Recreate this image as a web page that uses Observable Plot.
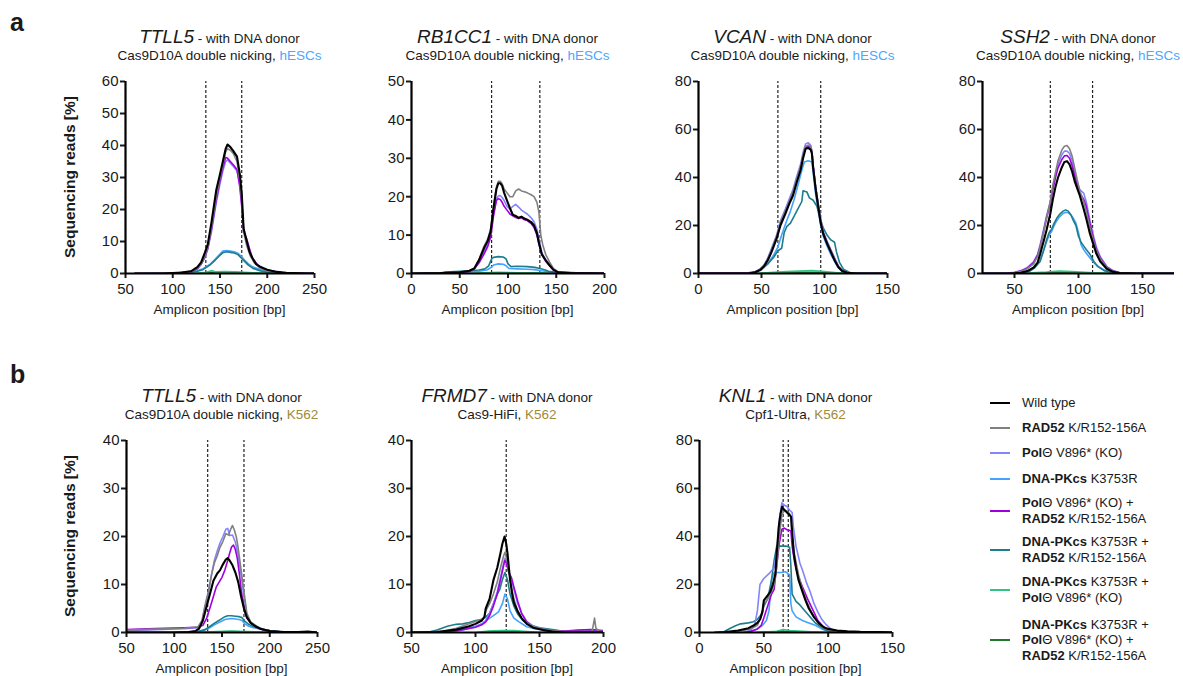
<!DOCTYPE html>
<html><head><meta charset="utf-8">
<script src="https://cdn.jsdelivr.net/npm/d3@7"></script>
<script src="https://cdn.jsdelivr.net/npm/@observablehq/plot@0.6"></script>
<style>
body{margin:0;background:#fff;font-family:"Liberation Sans",Arial,sans-serif;color:#1a1a1a}
#fig{position:relative;width:1183px;height:676px;overflow:hidden;background:#fff}
.abs{position:absolute;white-space:nowrap}
.ctr{transform:translateX(-50%);text-align:center}
.gene{font-style:italic;font-size:19px}
.sub{font-size:13.5px}
.xl{font-size:13.5px}
.yl{font-size:15.5px;font-weight:bold;transform:translate(-50%,-50%) rotate(-90deg)}
.letter{font-size:25px;font-weight:bold}
.leg{display:flex;align-items:center;font-size:13px;line-height:15.5px}
.sw{width:20px;height:2px;margin-right:12px;flex:none}
</style></head><body><div id="fig"></div><script>
// ---------- data: [amplicon position bp, sequencing reads %] ----------
// a1: TTLL5, hESCs
const a1_wt=[[60,0],[90,0],[110,0.3],[120,0.8],[126,2],[130,3.5],[134,6.5],[137,9],[141,16],[146,26],[150,31],[153,35],[156,39],[158,40.3],[161,39.5],[164,38.3],[168,36.5],[171,31],[173,25],[175,14],[178,10.5],[181,7],[184,5],[188,3],[193,2],[200,1.2],[210,0.5],[220,0.2],[240,0],[250,0]];
const a1_rad52=[[60,0],[100,0.1],[120,0.6],[126,1.6],[130,3],[134,5.5],[137,8],[141,14.5],[146,24],[150,30],[153,34],[156,38],[158,39],[161,38.5],[164,37.5],[168,35],[171,29],[173,23],[175,13],[178,9],[182,5.5],[186,3.5],[192,1.8],[200,0.8],[215,0.2],[250,0]];
const a1_polq=[[60,0],[100,0.1],[120,0.6],[126,1.5],[130,2.8],[134,5],[137,7.5],[141,13],[146,22],[150,28],[153,32],[156,35],[158,35.5],[161,34.5],[164,33.5],[168,32],[171,28],[173,22],[175,14],[178,10],[182,6],[186,3.8],[192,2],[200,1],[215,0.3],[250,0]];
const a1_dnapk=[[70,0],[100,0.1],[115,0.3],[125,0.8],[132,1.5],[136,2.2],[140,3],[145,4.5],[149,5.8],[153,7],[157,7.2],[161,7],[165,6.8],[169,6.3],[172,5.5],[176,4.2],[180,3],[185,2],[192,1.3],[200,0.8],[210,0.4],[220,0.1],[240,0]];
const a1_polqRad52=[[60,0],[100,0.1],[120,0.6],[126,1.5],[130,2.9],[134,5.2],[137,7.8],[141,14],[146,23],[150,29],[153,33],[156,36.3],[158,36],[161,35],[164,34],[168,32.5],[171,27],[173,21],[175,13],[178,11],[181,8],[184,5],[190,2.5],[200,1],[215,0.3],[250,0]];
const a1_dnapkRad52=[[80,0],[110,0.1],[125,0.6],[132,1.2],[136,2],[140,2.8],[145,4.2],[149,5.4],[153,6.5],[157,6.8],[161,6.6],[165,6.4],[169,5.9],[172,5],[176,3.8],[180,2.6],[185,1.6],[192,0.9],[200,0.4],[215,0.1],[240,0]];
const a1_dnapkPolq=[[100,0],[125,0.1],[135,0.4],[142,0.9],[145,0.5],[155,0.6],[165,0.5],[175,0.4],[185,0.2],[200,0],[250,0]];
const a1_triple=[[100,0],[130,0.1],[140,0.3],[150,0.4],[160,0.4],[170,0.3],[180,0.1],[200,0]];
// a2: RB1CC1, hESCs
const a2_wt=[[0,0],[30,0.1],[50,0.3],[60,0.7],[65,1.3],[70,3.5],[75,6.5],[79,8.5],[82,11],[85,17],[88,22],[90,23.5],[92,23.5],[94,22.8],[96,21],[99,19],[102,17],[105,15.3],[108,15],[111,14.5],[114,14.8],[117,14.3],[120,14],[124,13.4],[127,12.5],[130,10.5],[132,8],[135,5],[139,3.5],[143,2.2],[147,1],[152,0.3],[165,0.1],[200,0]];
const a2_rad52=[[0,0],[50,0.3],[60,0.7],[65,1.3],[70,3.7],[75,7],[79,9],[82,11.5],[85,17.5],[88,22.5],[90,24],[92,24],[94,23.3],[96,22],[99,21],[102,20],[105,20],[108,21.5],[111,22],[114,21.5],[117,21.3],[120,21],[124,20.5],[127,20],[130,18.5],[132,16],[134,10],[136,7.5],[139,5],[143,3],[147,1.3],[152,0.4],[170,0],[200,0]];
const a2_polq=[[0,0],[50,0.2],[60,0.5],[65,1.2],[70,3],[75,5.5],[79,7.5],[82,10],[85,15.5],[88,19.5],[90,20.2],[92,20.3],[94,19.8],[96,19],[99,17.5],[102,16.8],[105,17.5],[108,18],[111,17.3],[114,16.5],[117,16],[120,15.5],[124,14.5],[127,13.5],[130,11.5],[132,9],[135,5.5],[139,3.5],[143,2],[147,0.9],[152,0.3],[200,0]];
const a2_dnapk=[[35,0],[50,0.3],[60,0.5],[70,0.6],[78,0.9],[82,1.5],[85,2.2],[90,2.5],[95,2.4],[98,2],[101,1.3],[110,1.2],[120,1.1],[128,1],[133,0.8],[140,0.5],[150,0.2],[160,0],[200,0]];
const a2_polqRad52=[[0,0],[50,0.2],[60,0.5],[65,1.2],[70,2.8],[75,5],[79,7],[82,9.5],[85,15],[88,19],[90,19.5],[92,19.3],[94,18.5],[96,17.5],[99,16.5],[102,15.5],[105,15],[108,14.6],[111,14.3],[114,14.5],[117,14],[120,13.8],[124,13],[127,12],[130,10],[132,7.8],[135,5],[139,3.2],[143,2],[147,0.9],[152,0.3],[200,0]];
const a2_dnapkRad52=[[30,0],[35,0.4],[50,0.6],[60,0.7],[70,0.9],[76,1.2],[80,2],[83,3.8],[85,4.2],[90,4.4],[95,4.3],[98,3.8],[100,2.5],[103,1.8],[110,1.9],[120,1.8],[128,1.6],[133,1.3],[138,1],[142,0.6],[150,0.3],[160,0],[200,0]];
const a2_dnapkPolq=[[40,0],[70,0.1],[90,0.3],[110,0.2],[135,0.2],[150,0],[200,0]];
const a2_triple=[[60,0],[85,0.2],[100,0.2],[120,0.1],[140,0],[200,0]];
// a3: VCAN, hESCs
const a3_wt=[[0,0],[40,0],[45,0.5],[49,1.5],[52,3],[55,5.5],[58,9],[62,14.5],[65,20],[69,25],[72,29],[75,32.5],[78,38],[81,43],[83,48],[85,52],[87,52.3],[89,51.6],[90,50],[91,44],[93,35],[95,28],[97,21],[99,16.5],[102,12.5],[105,9],[108,5.5],[111,2.6],[114,1],[118,0.3],[125,0],[150,0]];
const a3_rad52=[[0,0],[40,0],[45,0.6],[49,1.7],[52,3.3],[55,6],[58,10],[62,15.5],[65,21],[69,26],[72,30],[75,34],[78,39.5],[81,44.5],[83,49.5],[85,53],[87,53.5],[89,53],[90,51],[91,45],[93,36],[95,29],[97,22],[99,17],[102,13],[105,9.5],[108,6],[111,3],[114,1.2],[118,0.4],[125,0],[150,0]];
const a3_polq=[[0,0.3],[20,0.3],[40,0.3],[45,0.8],[49,2],[52,3.6],[55,6.5],[58,10.5],[62,16],[65,22],[69,27],[72,31],[75,35],[78,40.5],[81,45.5],[83,50.5],[85,54],[87,54.5],[89,53.5],[90,51],[91,45],[93,36],[95,29],[97,22.5],[99,17.5],[102,13.5],[105,10],[108,6.5],[111,3.2],[114,1.3],[118,0.5],[125,0.1],[150,0]];
const a3_dnapk=[[30,0],[45,0.3],[50,1.5],[55,4],[60,8],[63,11],[66,16],[70,22],[73,26],[76,31],[79,37],[82,43],[84,46.5],[87,47],[90,46.5],[91,42],[93,33],[95,26],[97,20],[99,15.5],[102,11.5],[105,8],[108,5],[111,2.5],[115,0.8],[120,0.2],[130,0],[150,0]];
const a3_polqRad52=[[0,0.2],[40,0.2],[45,0.6],[49,1.6],[52,3.2],[55,5.8],[58,9.6],[62,15],[65,20.5],[69,25.5],[72,29.5],[75,33.5],[78,39],[81,44],[83,49],[85,52.5],[87,53],[89,52.5],[90,50.5],[91,44.5],[93,35.5],[95,28.5],[97,21.5],[99,17],[102,13],[105,9.5],[108,6],[111,3],[114,1.2],[118,0.4],[125,0],[150,0]];
const a3_dnapkRad52=[[30,0],[45,0.5],[50,2],[55,4],[60,7],[63,9.5],[66,10.5],[68,17],[70,19.5],[73,21],[76,24],[79,27],[82,30],[83,34.5],[86,34],[88,31.5],[91,30.5],[94,28],[96,24],[99,19],[102,16],[105,14],[108,13],[109.5,9],[112,4.5],[115,1.8],[120,0.4],[130,0],[150,0]];
const a3_dnapkPolq=[[40,0],[50,0.2],[60,0.5],[70,0.8],[80,1],[90,1.2],[100,0.8],[110,0.3],[120,0],[150,0]];
const a3_triple=[[50,0],[65,0.3],[80,0.5],[95,0.4],[110,0.1],[120,0],[150,0]];
// a4: SSH2, hESCs
const a4_wt=[[25,0],[40,0],[50,0.1],[55,0.3],[60,1],[65,2.5],[68,4.5],[70,8],[73,14],[75,18],[78,25],[80,31],[82,36],[84,40],[87,44.3],[89,46.5],[91,46.8],[93,45.5],[95,42.5],[97,38.5],[99,35.5],[101,32.5],[104,27],[106,23],[109,16.5],[112,11.5],[114,8.2],[117,5],[122,2],[127,0.7],[132,0.2],[145,0],[175,0]];
const a4_rad52=[[25,0],[45,0],[50,0.3],[55,0.8],[60,2],[65,4],[68,7],[70,11],[73,18],[75,23],[78,30],[80,37],[82,42],[84,47],[87,51.5],[89,53],[91,53.3],[93,52],[95,49],[97,44],[99,39],[101,34.5],[104,30],[106,26],[109,19],[112,13],[114,9.5],[117,6],[122,2.5],[127,1],[132,0.3],[145,0],[175,0]];
const a4_polq=[[25,0],[45,0.2],[50,0.5],[55,1.2],[60,2.5],[65,5],[68,8],[70,12],[73,19],[75,24],[78,30],[80,36],[82,41],[84,45.5],[87,49.5],[89,51],[91,51],[93,50],[95,47],[97,42],[99,38],[101,35],[104,33.5],[106,30],[109,22],[112,15],[114,11],[117,7],[122,3],[127,1.2],[132,0.4],[145,0],[175,0]];
const a4_dnapk=[[25,0],[45,0],[55,0.3],[62,1.2],[66,2.8],[70,5.5],[73,10],[75,13],[77,16],[79,17.5],[81,20],[83,22],[85,23.5],[88,25],[90,25.5],[92,25.3],[94,24.5],[96,23],[98,21],[100,17],[102,12],[104,10],[106,8.5],[109,6.5],[112,4.5],[115,3],[120,1.5],[126,0.5],[135,0.1],[145,0],[175,0]];
const a4_polqRad52=[[25,0],[45,0.1],[50,0.4],[55,1],[60,2.2],[65,4.5],[68,7.5],[70,11],[73,18],[75,23],[78,29],[80,35],[82,40],[84,44],[87,47.5],[89,49],[91,49.2],[93,48],[95,45],[97,40.5],[99,37],[101,33.5],[104,31],[106,28],[109,20.5],[112,14],[114,10],[117,6.5],[122,2.7],[127,1],[132,0.3],[145,0],[175,0]];
const a4_dnapkRad52=[[25,0],[45,0],[55,0.2],[62,1],[66,2.5],[70,5],[73,10],[75,14],[77,17],[79,18.5],[81,21],[83,23],[85,24.5],[88,26],[90,26.5],[92,26],[94,24.5],[96,22],[98,20],[100,15.5],[102,13],[104,11.5],[106,10],[109,8],[112,5],[115,3],[120,1.2],[126,0.4],[135,0],[175,0]];
const a4_dnapkPolq=[[45,0],[60,0.2],[75,0.6],[85,1],[95,0.8],[105,0.5],[115,0.2],[125,0],[175,0]];
const a4_triple=[[55,0],[70,0.2],[85,0.4],[100,0.3],[115,0.1],[125,0],[175,0]];
// b1: TTLL5, K562
const b1_wt=[[50,0],[100,0],[115,0.1],[122,0.3],[126,0.8],[130,2.5],[134,5.5],[138,8.5],[141,10.8],[145,12.3],[148,13],[151,14.2],[154,15.2],[156,15.5],[158,15],[161,14],[164,12.5],[167,10.5],[170,7.5],[173,5],[176,3.2],[180,2],[185,1.3],[190,0.8],[200,0.3],[215,0.1],[230,0.1],[240,0.2],[250,0]];
const b1_rad52=[[50,0.5],[80,0.7],[110,0.9],[125,1.2],[129,2.5],[132,5.5],[136,8.8],[139,12],[142,14.5],[145,16],[148,17.8],[151,19],[154,20.6],[157,20.3],[159,21.5],[161,22.3],[163,21.3],[165,19.9],[167,17.5],[170,13],[173,8.5],[176,4],[180,2.2],[187,1.2],[195,0.5],[205,0.2],[220,0],[250,0]];
const b1_polq=[[50,0.4],[80,0.6],[110,0.8],[125,1],[129,2.2],[132,5],[136,8.5],[139,12],[142,15],[145,17],[148,18.7],[151,20],[154,21.5],[156,21.7],[158,20.2],[161,20.3],[164,18.8],[167,16],[170,12],[173,7.5],[176,3.8],[180,2],[187,1],[195,0.4],[205,0.1],[250,0]];
const b1_dnapk=[[50,0],[110,0],[125,0.2],[132,0.5],[137,1],[141,1.5],[145,1.9],[149,2.3],[153,2.7],[156,2.8],[160,2.9],[164,2.8],[168,2.7],[171,2.5],[174,1.8],[178,1.3],[183,1],[190,0.7],[200,0.4],[210,0.2],[225,0],[250,0]];
const b1_polqRad52=[[50,0.6],[80,0.8],[110,1],[125,1.1],[130,1.5],[134,3],[138,5.5],[141,7.5],[144,9.5],[147,10.5],[150,11.5],[153,13],[156,15],[158,16.5],[160,17.8],[162,18.2],[164,17.3],[166,15.5],[168,12.5],[170,9],[173,5],[176,3],[180,2],[187,1],[195,0.4],[205,0.1],[250,0]];
const b1_dnapkRad52=[[50,0],[110,0],[125,0.2],[132,0.6],[137,1.2],[141,1.8],[145,2.3],[149,2.8],[153,3.3],[156,3.5],[160,3.5],[164,3.4],[168,3.3],[171,3.1],[174,2.3],[178,1.7],[183,1.2],[190,0.8],[200,0.4],[210,0.2],[225,0],[250,0]];
const b1_dnapkPolq=[[100,0],[130,0.1],[145,0.2],[160,0.3],[175,0.2],[190,0.1],[200,0],[250,0]];
const b1_triple=[[120,0],[140,0.1],[160,0.2],[180,0.1],[200,0],[250,0]];
// b2: FRMD7, K562
const b2_wt=[[50,0],[70,0.1],[85,0.6],[95,1.3],[100,1.8],[105,2.5],[107,3.3],[108,5],[111,7],[114,10.9],[117,13.5],[119.5,16.5],[121,18.5],[122.7,20],[124,18.5],[125,16.5],[127,11],[128.6,8.1],[130,6.2],[132.6,4.6],[136,3],[140,1.8],[145,1],[153,0.5],[160,0.2],[170,0],[200,0]];
const b2_rad52=[[50,0],[65,0],[75,0.3],[85,0.9],[95,1.8],[102,2.5],[107,3],[108,4.5],[111,6],[114,8],[117,10.5],[120,14],[122,16],[123,16.7],[124,16],[126,13],[128,9.5],[130,7],[133,4.5],[136,3],[140,2],[145,1.3],[150,0.8],[160,0.4],[170,0.2],[180,0.2],[191,0.2],[192,1.5],[193,3],[194,1],[196,0.3],[200,0.2]];
const b2_polq=[[50,0],[70,0],[80,0.3],[90,0.8],[100,1.3],[105,1.8],[108,2.5],[111,4],[114,6],[117,8.5],[120,12],[122,14.5],[123,15.5],[124,15],[126,12.5],[128,11],[130,9],[133,6],[136,4],[140,2.3],[145,1.3],[150,0.8],[160,0.4],[170,0.2],[180,0.4],[190,0.5],[200,0.3]];
const b2_dnapk=[[50,0],[80,0.1],[90,0.5],[100,1.2],[105,1.8],[110,2.8],[114,3.5],[118,4.3],[121,6],[123,8],[125,7],[127,4.5],[130,3],[134,2.2],[140,1.2],[146,0.8],[155,0.4],[165,0.1],[175,0],[200,0]];
const b2_polqRad52=[[50,0],[70,0],[80,0.2],[90,0.6],[100,1.1],[105,1.6],[108,2.2],[111,3.5],[114,5.5],[117,8],[120,11.5],[122,14],[123,15],[124,14.5],[126,12.5],[128,11.5],[130,9.5],[133,6.5],[136,4],[140,2.2],[145,1.2],[150,0.7],[160,0.4],[170,0.3],[180,0.5],[190,0.6],[200,0.4]];
const b2_dnapkRad52=[[50,0],[62,0],[70,0.5],[78,1.3],[85,1.7],[90,1.8],[95,2.1],[100,2.5],[105,2.7],[108,3.2],[111,4],[114,6],[117,8],[119,9],[121,11],[123,12.5],[125,11],[127,8],[130,5.5],[133,3.8],[137,2.5],[142,1.6],[150,1],[160,0.6],[170,0.2],[180,0],[200,0]];
const b2_dnapkPolq=[[100,0],[110,0.3],[120,0.4],[130,0.4],[140,0.2],[150,0],[200,0]];
const b2_triple=[[105,0],[115,0.2],[125,0.3],[135,0.1],[145,0],[200,0]];
// b3: KNL1, K562
const b3_wt=[[12,0],[20,0.2],[30,0.8],[38,1.8],[42,2.9],[45,4],[47.3,5.7],[49,9],[50,13.4],[53,15.5],[55,16.9],[57,20],[59,24.5],[60,33],[61.6,44],[63,49.5],[64.2,52.4],[66,51],[68,50],[70,49],[71.2,48.2],[72,42],[73.3,33],[75,27],[77,21.8],[80,17],[82.4,13.4],[85,10],[89,6.4],[93,3.8],[96.6,2.2],[100,1.5],[107,0.8],[115,0.5],[125,0.3],[140,0.2],[150,0]];
const b3_rad52=[[15,0],[30,0.5],[40,1.5],[45,3],[49,8],[50,12],[53,14],[55,16],[58,20],[60,27],[62,40],[64,49],[66,51],[68,50.5],[70,49.5],[71,48],[72,40],[74,32],[77,24],[80,18],[84,12],[88,7.5],[92,4],[96,2],[100,1],[110,0.4],[120,0.1],[150,0]];
const b3_polq=[[35,0],[40,1],[43,3.5],[45,9],[47,20],[50,22.5],[54,24.5],[58,27],[60,33],[62,47],[64,54],[66,53],[68,52.5],[70,51],[72,50],[73,44],[75,36],[78,29],[80,26],[83,21],[86,17],[89,12],[92,8.5],[95,5.5],[98,3.5],[102,1.5],[106,0.5],[110,0],[150,0]];
const b3_dnapk=[[30,0],[40,0.5],[45,1.5],[49,3],[52,5],[54,9],[56,22],[58,25],[64,25],[67,25.3],[70,24],[71,12],[72,9],[75,6.5],[80,5],[85,4],[90,3],[95,1.5],[100,0.5],[105,0],[150,0]];
const b3_polqRad52=[[35,0],[40,0.5],[45,1.5],[48,3],[50,6],[53,11],[56,16],[58,18],[60,28],[62,37],[64,43],[66,43.5],[68,42.8],[70,42.5],[71,42.5],[72,36],[74,29],[77,23],[80,19],[84,14],[88,9.5],[92,5],[96,2.5],[100,1],[106,0.2],[150,0]];
const b3_dnapkRad52=[[18,0],[20,0.6],[24,1.8],[28,2.8],[32,3.6],[38,4],[42,4.5],[45,5.5],[48,7.5],[50,11],[53,14],[56,22],[58,30],[60,36],[64.5,36],[67,36],[70,35.5],[71,28],[72,16],[75,13],[78,11.5],[82,9],[86,6.5],[90,4],[94,2.5],[98,1],[102,0.3],[110,0],[150,0]];
const b3_dnapkPolq=[[40,0],[50,0.2],[60,0.5],[65,1.2],[70,0.8],[80,0.5],[90,0.2],[100,0],[150,0]];
const b3_triple=[[45,0],[55,0.2],[65,0.4],[75,0.3],[90,0.1],[100,0],[150,0]];

// cut sites (dashed lines) and ticks
const a1_cuts=[135,173], a2_cuts=[83,133], a3_cuts=[63,97], a4_cuts=[78,111], b1_cuts=[135,173], b2_cuts=[124], b3_cuts=[65,69];
const a1_xticks=[50,100,150,200,250], a2_xticks=[0,50,100,150,200], a3_xticks=[0,50,100,150], a4_xticks=[50,100,150];
const b1_xticks=[50,100,150,200,250], b2_xticks=[50,100,150,200], b3_xticks=[0,50,100,150];
const a1_yticks=[0,10,20,30,40,50,60], a2_yticks=[0,10,20,30,40,50], a3_yticks=[0,20,40,60,80], a4_yticks=[0,20,40,60,80];
const b1_yticks=[0,10,20,30,40], b2_yticks=[0,10,20,30,40], b3_yticks=[0,20,40,60,80];
const genes=["TTLL5","RB1CC1","VCAN","SSH2","TTLL5","FRMD7","KNL1"];
const enzymes=["Cas9D10A double nicking","Cas9D10A double nicking","Cas9D10A double nicking","Cas9D10A double nicking","Cas9D10A double nicking","Cas9-HiFi","Cpf1-Ultra"];
const cells=["hESCs","hESCs","hESCs","hESCs","K562","K562","K562"];
const seriesKeys=["triple","dnapkPolq","dnapk","dnapkRad52","polq","polqRad52","rad52","wt"]; // draw order
const legendKeys=["wt","rad52","polq","dnapk","polqRad52","dnapkRad52","dnapkPolq","triple"];
const legendLabels=[
 "Wild type",
 "<b>RAD52</b> K/R152-156A",
 "<b>Pol</b>Θ V896* (KO)",
 "<b>DNA-PKcs</b> K3753R",
 "<b>Pol</b>Θ V896* (KO) +<br><b>RAD52</b> K/R152-156A",
 "<b>DNA-PKcs</b> K3753R +<br><b>RAD52</b> K/R152-156A",
 "<b>DNA-PKcs</b> K3753R +<br><b>Pol</b>Θ V896* (KO)",
 "<b>DNA-PKcs</b> K3753R +<br><b>Pol</b>Θ V896* (KO) +<br><b>RAD52</b> K/R152-156A"];

// ---------- styles & layout ----------
const colors={wt:"#000000",rad52:"#808080",polq:"#8484ff",dnapk:"#45a3ff",polqRad52:"#a000dd",dnapkRad52:"#1d7d8b",dnapkPolq:"#2ec483",triple:"#1f7a30"};
const cellColors={hESCs:"#4da6ff",K562:"#a08a3a"};
const panels=[
 {series:{wt:a1_wt,rad52:a1_rad52,polq:a1_polq,dnapk:a1_dnapk,polqRad52:a1_polqRad52,dnapkRad52:a1_dnapkRad52,dnapkPolq:a1_dnapkPolq,triple:a1_triple},xd:[50,250],xt:a1_xticks,yt:a1_yticks,cuts:a1_cuts,left:125,top:81,w:189,h:192},
 {series:{wt:a2_wt,rad52:a2_rad52,polq:a2_polq,dnapk:a2_dnapk,polqRad52:a2_polqRad52,dnapkRad52:a2_dnapkRad52,dnapkPolq:a2_dnapkPolq,triple:a2_triple},xd:[0,200],xt:a2_xticks,yt:a2_yticks,cuts:a2_cuts,left:411,top:81,w:193,h:192},
 {series:{wt:a3_wt,rad52:a3_rad52,polq:a3_polq,dnapk:a3_dnapk,polqRad52:a3_polqRad52,dnapkRad52:a3_dnapkRad52,dnapkPolq:a3_dnapkPolq,triple:a3_triple},xd:[0,150],xt:a3_xticks,yt:a3_yticks,cuts:a3_cuts,left:698,top:81,w:189,h:192},
 {series:{wt:a4_wt,rad52:a4_rad52,polq:a4_polq,dnapk:a4_dnapk,polqRad52:a4_polqRad52,dnapkRad52:a4_dnapkRad52,dnapkPolq:a4_dnapkPolq,triple:a4_triple},xd:[25,175],xt:a4_xticks,yt:a4_yticks,cuts:a4_cuts,left:982,top:81,w:192,h:192},
 {series:{wt:b1_wt,rad52:b1_rad52,polq:b1_polq,dnapk:b1_dnapk,polqRad52:b1_polqRad52,dnapkRad52:b1_dnapkRad52,dnapkPolq:b1_dnapkPolq,triple:b1_triple},xd:[50,250],xt:b1_xticks,yt:b1_yticks,cuts:b1_cuts,left:126,top:440,w:191,h:192},
 {series:{wt:b2_wt,rad52:b2_rad52,polq:b2_polq,dnapk:b2_dnapk,polqRad52:b2_polqRad52,dnapkRad52:b2_dnapkRad52,dnapkPolq:b2_dnapkPolq,triple:b2_triple},xd:[50,200],xt:b2_xticks,yt:b2_yticks,cuts:b2_cuts,left:411,top:440,w:192,h:192},
 {series:{wt:b3_wt,rad52:b3_rad52,polq:b3_polq,dnapk:b3_dnapk,polqRad52:b3_polqRad52,dnapkRad52:b3_dnapkRad52,dnapkPolq:b3_dnapkPolq,triple:b3_triple},xd:[0,150],xt:b3_xticks,yt:b3_yticks,cuts:b3_cuts,left:699,top:440,w:193,h:192}
];

const fig=document.getElementById("fig");
function addDiv(cls,html,left,top,extra){const d=document.createElement("div");d.className="abs "+cls;d.innerHTML=html;d.style.left=left+"px";d.style.top=top+"px";if(extra)Object.assign(d.style,extra);fig.appendChild(d);return d;}

const ML=45,MR=14,MT=10,MB=34;
panels.forEach((p,i)=>{
  const ymax=p.yt[p.yt.length-1];
  const marks=[
    Plot.ruleX(p.cuts,{y1:0,y2:ymax,stroke:"#222",strokeWidth:1.2,strokeDasharray:"3,2"}),
    ...seriesKeys.map(k=>Plot.line(p.series[k],{x:d=>d[0],y:d=>d[1],stroke:colors[k],strokeWidth:k==="wt"?2.1:1.6,strokeLinejoin:"round",clip:true})),
    Plot.axisX({ticks:p.xt,tickSize:5,tickPadding:5,strokeWidth:2,label:null,fontSize:15}),
    Plot.axisY({ticks:p.yt,tickSize:5,tickPadding:2,strokeWidth:2,label:null,fontSize:15}),
    Plot.ruleY([0],{stroke:"#000",strokeWidth:2.2}),
    Plot.ruleX([p.xd[0]],{y1:0,y2:ymax,stroke:"#000",strokeWidth:2.2})
  ];
  const svg=Plot.plot({
    width:ML+p.w+MR,height:MT+p.h+MB,marginLeft:ML,marginRight:MR,marginTop:MT,marginBottom:MB,
    x:{domain:p.xd},y:{domain:[0,ymax]},
    style:{fontFamily:"'Liberation Sans',Arial,sans-serif",color:"#1a1a1a",background:"transparent",overflow:"visible"},
    marks
  });
  svg.style.position="absolute";svg.style.left=(p.left-ML)+"px";svg.style.top=(p.top-MT)+"px";
  fig.appendChild(svg);
  const cx=p.left+p.w/2;
  addDiv("ctr",`<span class="gene">${genes[i]}</span><span class="sub"> - with DNA donor</span>`,cx,p.top-55);
  addDiv("ctr sub",`${enzymes[i]}, <span style="color:${cellColors[cells[i]]}">${cells[i]}</span>`,cx,p.top-33);
  addDiv("ctr xl","Amplicon position [bp]",cx,p.top+p.h+29);
});
// y axis titles
addDiv("yl","Sequencing reads [%]",70,177);
addDiv("yl","Sequencing reads [%]",70,536);
// panel letters
addDiv("letter","a",10,8);
addDiv("letter","b",10,360);
// legend
const legendMid=[403,428,453,479,510.5,549.5,589.5,640];
legendKeys.forEach((k,i)=>{
  const n=(legendLabels[i].match(/<br>/g)||[]).length+1;
  addDiv("leg",`<div class="sw" style="background:${colors[k]}"></div><div>${legendLabels[i]}</div>`,990,legendMid[i]-n*15.5/2);
});
</script></body></html>
